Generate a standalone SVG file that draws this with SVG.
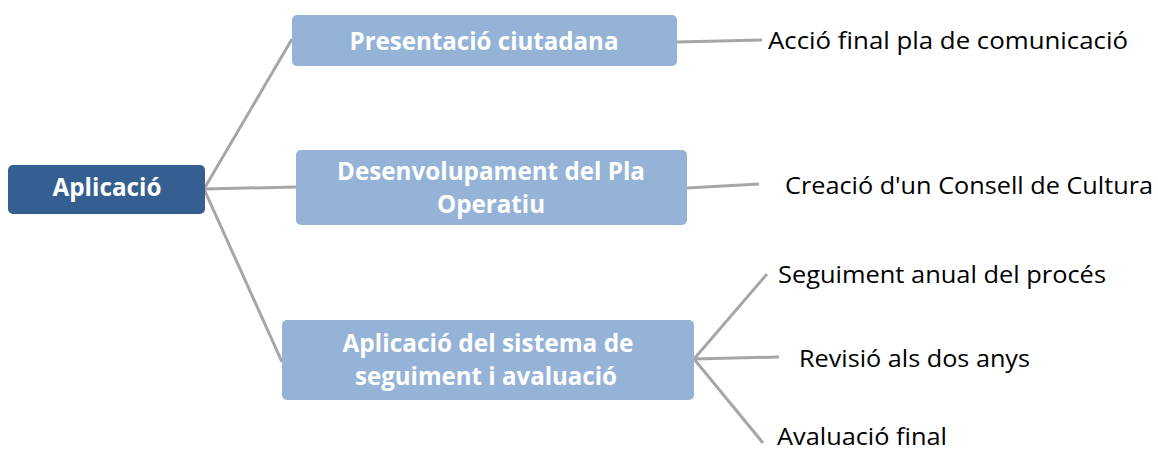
<svg xmlns="http://www.w3.org/2000/svg" width="1158" height="452" viewBox="0 0 1158 452">
<style>
.root{fill:#365F91;}
.box{fill:#95B3D7;}
.bt{font-family:"Open Sans","Liberation Sans",sans-serif;font-weight:bold;font-size:25px;fill:#FFFFFF;text-anchor:middle;}
.lt{font-family:"Open Sans","Liberation Sans",sans-serif;font-size:23px;fill:#000000;}
.con{stroke:#A6A6A6;stroke-width:3;fill:none;}
</style>
<rect width="1158" height="452" fill="#FFFFFF"/>
<g id="connectors">
<line class="con" x1="204" y1="189" x2="292" y2="39"/>
<line class="con" x1="204" y1="189" x2="296" y2="187"/>
<line class="con" x1="204" y1="189" x2="282" y2="362"/>
<line class="con" x1="677" y1="42" x2="762" y2="40"/>
<line class="con" x1="687" y1="188" x2="759" y2="184"/>
<line class="con" x1="694" y1="359" x2="767" y2="274"/>
<line class="con" x1="694" y1="359" x2="779" y2="357"/>
<line class="con" x1="694" y1="359" x2="763" y2="443"/>
</g>
<g id="node-aplicacio">
<rect class="root" x="8" y="165" width="197" height="49" rx="5"/>
<text class="bt" x="107" y="196" textLength="109" lengthAdjust="spacingAndGlyphs">Aplicació</text>
</g>
<g id="node-presentacio">
<rect class="box" x="292" y="15" width="385" height="51" rx="5"/>
<text class="bt" x="484" y="50" textLength="269" lengthAdjust="spacingAndGlyphs">Presentació ciutadana</text>
</g>
<g id="node-desenvolupament">
<rect class="box" x="296" y="150" width="391" height="75" rx="5"/>
<text class="bt" x="491" y="180" textLength="308" lengthAdjust="spacingAndGlyphs">Desenvolupament del Pla</text>
<text class="bt" x="491" y="213" textLength="108" lengthAdjust="spacingAndGlyphs">Operatiu</text>
</g>
<g id="node-sistema">
<rect class="box" x="282" y="320" width="412" height="80" rx="5"/>
<text class="bt" x="488" y="352" textLength="291" lengthAdjust="spacingAndGlyphs">Aplicació del sistema de</text>
<text class="bt" x="486" y="385" textLength="262" lengthAdjust="spacingAndGlyphs">seguiment i avaluació</text>
</g>
<g id="leaf-accio"><text class="lt" x="768" y="49" textLength="360" lengthAdjust="spacingAndGlyphs">Acció final pla de comunicació</text></g>
<g id="leaf-creacio"><text class="lt" x="785" y="194" textLength="368" lengthAdjust="spacingAndGlyphs">Creació d'un Consell de Cultura</text></g>
<g id="leaf-seguiment"><text class="lt" x="778" y="283" textLength="328" lengthAdjust="spacingAndGlyphs">Seguiment anual del procés</text></g>
<g id="leaf-revisio"><text class="lt" x="799" y="367" textLength="231" lengthAdjust="spacingAndGlyphs">Revisió als dos anys</text></g>
<g id="leaf-avaluacio"><text class="lt" x="777" y="445" textLength="170" lengthAdjust="spacingAndGlyphs">Avaluació final</text></g>
</svg>
